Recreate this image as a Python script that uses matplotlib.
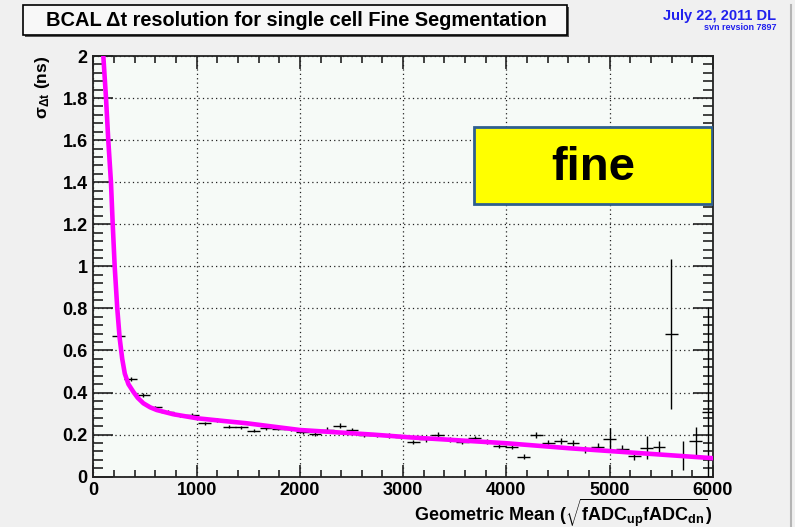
import matplotlib
matplotlib.use("Agg")
from matplotlib import pyplot as plt
from matplotlib.patches import Rectangle
from matplotlib.lines import Line2D
from matplotlib.ticker import MultipleLocator

plt.rcParams['font.family'] = ['Liberation Sans', 'DejaVu Sans']
plt.rcParams['font.weight'] = 'bold'
plt.rcParams['mathtext.fontset'] = 'custom'
plt.rcParams['mathtext.rm'] = 'Liberation Sans:bold'
plt.rcParams['mathtext.it'] = 'Liberation Sans:bold'
plt.rcParams['mathtext.bf'] = 'Liberation Sans:bold'

# measured points (bin centres, sigma, errors)
gm = [245, 364, 483, 602, 721, 840, 958, 1077, 1196, 1315, 1434, 1553,
      1672, 1791, 1910, 2029, 2147, 2266, 2385, 2504, 2623, 2742, 2861,
      2980, 3099, 3218, 3336, 3455, 3574, 3693, 3812, 3931, 4050, 4169,
      4288, 4407, 4525, 4644, 4763, 4882, 5001, 5120, 5239, 5358, 5477,
      5596, 5714, 5833, 5952]
sigma = [0.67, 0.463, 0.387, 0.33, 0.309, 0.292, 0.292, 0.254, 0.27, 0.238,
         0.235, 0.219, 0.23, 0.228, 0.226, 0.214, 0.203, 0.222, 0.243, 0.222,
         0.198, 0.198, 0.198, 0.19, 0.165, 0.177, 0.2, 0.178, 0.166, 0.183,
         0.166, 0.148, 0.143, 0.095, 0.198, 0.159, 0.171, 0.159, 0.13, 0.143,
         0.18, 0.132, 0.098, 0.138, 0.143, 0.679, 0.10, 0.17, 0.308]
sigma_err = [0.01, 0.01, 0.01, 0.008, 0.008, 0.008, 0.01, 0.008, 0.01, 0.008,
             0.008, 0.008, 0.008, 0.008, 0.008, 0.01, 0.01, 0.016, 0.012, 0.01,
             0.01, 0.01, 0.012, 0.01, 0.01, 0.01, 0.012, 0.012, 0.012, 0.012,
             0.012, 0.012, 0.012, 0.012, 0.015, 0.015, 0.015, 0.015, 0.015, 0.018,
             0.05, 0.02, 0.02, 0.055, 0.028, 0.355, 0.07, 0.068, 0.5]

# fit curve
fit_x = [97, 123, 145, 171, 188, 207, 232, 255, 280, 305, 340, 387, 430, 485,
         550, 614, 774, 1001, 1259, 1485, 2001, 2711, 3066, 4000, 4615, 5940, 6000]
fit_y = [2.0, 1.8, 1.6, 1.4, 1.2, 1.0, 0.8, 0.66, 0.56, 0.49, 0.44, 0.404, 0.375,
         0.349, 0.33, 0.317, 0.297, 0.278, 0.265, 0.254, 0.222, 0.2, 0.187, 0.159,
         0.135, 0.09, 0.088]

W, H = 795, 527
fig = plt.figure(figsize=(W / 100, H / 100), dpi=100)
fig.patch.set_facecolor('#f0f0f0')

ax = fig.add_axes([93.3 / W, 1 - 476.7 / H, (713 - 93.3) / W, (476.7 - 56) / H])
ax.set_facecolor('#f6faf7')

ax.errorbar(gm, sigma, xerr=62, yerr=sigma_err, fmt='none', ecolor='black',
            elinewidth=1.0, capsize=0, zorder=3)
ax.plot(fit_x, fit_y, color='#ff00ff', lw=3.3, zorder=4, solid_joinstyle='round')

ax.set_xlim(0, 6000)
ax.set_ylim(0, 2)
ax.xaxis.set_major_locator(MultipleLocator(1000))
ax.xaxis.set_minor_locator(MultipleLocator(200))
ax.yaxis.set_minor_locator(MultipleLocator(0.04))
ax.set_yticks([0, 0.2, 0.4, 0.6, 0.8, 1, 1.2, 1.4, 1.6, 1.8, 2])
ax.set_yticklabels(['0', '0.2', '0.4', '0.6', '0.8', '1', '1.2', '1.4', '1.6', '1.8', '2'])
ax.grid(True, which='major', color='#222222', linestyle=(0, (1, 2.5)), lw=0.9)

ax.tick_params(axis='x', which='major', direction='in', length=9, width=1.2,
               top=True, labelsize=13, pad=4, color='#222222')
ax.tick_params(axis='x', which='minor', direction='in', length=5, width=1.2,
               top=True, color='#222222')
ax.tick_params(axis='y', which='major', direction='in', length=14.5, width=1.2,
               right=True, labelsize=13, pad=4, color='#222222')
ax.tick_params(axis='y', which='minor', direction='in', length=7.5, width=1.2,
               right=True, color='#222222')
for lab in ax.get_xticklabels() + ax.get_yticklabels():
    lab.set_fontweight('bold')
for s in ax.spines.values():
    s.set_color('#222222')
    s.set_linewidth(1.3)

fig.text(713 / W, 1 - 513 / H,
         r'Geometric Mean ($\sqrt{\mathrm{fADC_{up}fADC_{dn}}}$)',
         fontsize=13, fontweight='bold', ha='right', va='center')
fig.text(42 / W, 1 - 56 / H, r'σ$_{\Delta t}$ (ns)', fontsize=12.5,
         fontweight='bold', rotation=90, ha='center', va='top')

# "fine" label box
ax.add_patch(Rectangle((0.614, 0.648), 0.384, 0.184, transform=ax.transAxes,
                       fc='#ffff00', ec='#2f5f8f', lw=2, zorder=6))
ax.text(0.807, 0.733, 'fine', transform=ax.transAxes, fontsize=34,
        fontweight='bold', ha='center', va='center', zorder=7)

# title box with shadow
fig.patches.append(Rectangle((25 / W, 1 - 37 / H), 544 / W, 30 / H,
                             transform=fig.transFigure, fc='#555555', ec='none'))
fig.patches.append(Rectangle((23 / W, 1 - 35 / H), 544 / W, 30 / H,
                             transform=fig.transFigure, fc='#f8f8f8', ec='black', lw=1.2))
fig.text(296 / W, 1 - 20 / H, u'BCAL \u0394t resolution for single cell Fine Segmentation',
         fontsize=14.4, fontweight='bold', ha='center', va='center')

fig.text(776 / W, 1 - 16 / H, 'July 22, 2011 DL', fontsize=10.5, fontweight='bold',
         color='#2020ee', ha='right', va='center')
fig.text(776 / W, 1 - 27 / H, 'svn revsion 7897', fontsize=6.5, fontweight='bold',
         color='#2020ee', ha='right', va='center')

fig.lines.append(Line2D([791 / W, 791 / W], [0, 1 - 5 / H], transform=fig.transFigure,
                        color='#b5b5b5', lw=1.5))

fig.savefig('out.png', dpi=100, facecolor=fig.get_facecolor())
